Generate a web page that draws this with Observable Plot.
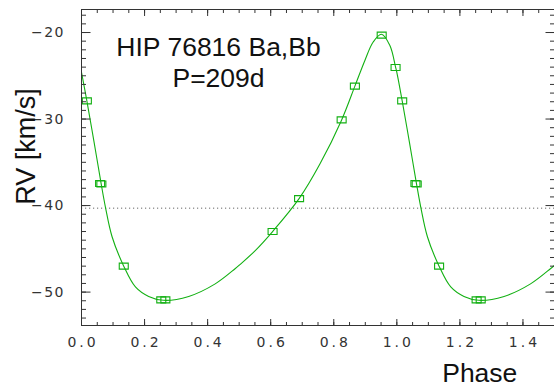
<!DOCTYPE html>
<html><head><meta charset="utf-8">
<script src="https://cdn.jsdelivr.net/npm/d3@7"></script>
<script src="https://cdn.jsdelivr.net/npm/@observablehq/plot@0.6"></script>
<style>
body{margin:0;background:#fff}
svg [aria-label="x-axis tick label"] text{letter-spacing:3px}
svg [aria-label="y-axis tick label"] text{letter-spacing:1.5px}
</style>
</head><body><div id="chart"></div>
<script>
// Model curve (one period, phase 0..1)
const curvePhase = [0, 0.017, 0.04, 0.062, 0.076, 0.097, 0.134, 0.171, 0.213, 0.26, 0.34, 0.424, 0.487, 0.5, 0.551, 0.606, 0.69, 0.756, 0.825, 0.867, 0.899, 0.925, 0.951, 0.978, 0.996];
const curveRV = [-24.6, -27.9, -32.7, -37.4, -40.2, -43.6, -47.0, -49.4, -50.5, -50.95, -50.5, -49.05, -47.3, -46.9, -45.2, -43.0, -39.2, -35.2, -30.1, -26.2, -23.2, -21.1, -20.2, -21.5, -24.0];
// Observations
const obsPhase = [0.017, 0.059, 0.063, 0.134, 0.253, 0.266, 0.606, 0.690, 0.825, 0.867, 0.952, 0.996];
const obsRV = [-27.9, -37.45, -37.5, -47.0, -50.9, -50.9, -43.0, -39.2, -30.1, -26.2, -20.3, -24.05];
const gamma = -40.3;
const xTicks = [0, 0.2, 0.4, 0.6, 0.8, 1.0, 1.2, 1.4];
const xMinor = d3.range(0, 31).map(i => i * 0.05);
const yTicks = [-20, -30, -40, -50];
const yMinor = d3.range(-53, -17).map(d => d);
const titleLines = ["HIP 76816 Ba,Bb", "P=209d"];
const xLabel = "Phase", yLabel = "RV [km/s]";

const curve = [];
curvePhase.forEach((p, i) => { curve.push({phase: p, rv: curveRV[i]}); });
curvePhase.forEach((p, i) => { if (p + 1 <= 1.5) curve.push({phase: p + 1, rv: curveRV[i]}); });
curve.sort((a, b) => a.phase - b.phase);
const obs = [];
obsPhase.forEach((p, i) => { obs.push({phase: p, rv: obsRV[i]}); if (p + 1 <= 1.5) obs.push({phase: p + 1, rv: obsRV[i]}); });

const green = "#12b012";
const rectSym = {draw(ctx) { ctx.moveTo(-4.5, -3); ctx.lineTo(4.5, -3); ctx.lineTo(4.5, 3); ctx.lineTo(-4.5, 3); ctx.closePath(); }};
const axC = "#333";
const tf = {fontFamily: "DejaVu Sans", fontSize: 14, fontWeight: 400, fill: "#333"};

const chart = Plot.plot({
  width: 554, height: 386,
  marginLeft: 81, marginRight: 0, marginTop: 9, marginBottom: 61,
  x: {domain: [0, 1.5]},
  y: {domain: [-53.86, -17.34]},
  style: {fontFamily: "Liberation Sans, Arial, sans-serif", background: "white", color: "#222"},
  marks: [
    Plot.ruleY([gamma], {stroke: "#666", strokeDasharray: "1.2,2.8"}),
    Plot.line(curve, {x: "phase", y: "rv", stroke: green, strokeWidth: 1.1, curve: "catmull-rom"}),
    Plot.dot(obs, {x: "phase", y: "rv", symbol: rectSym, stroke: green, fill: "none", strokeWidth: 1.1}),
    Plot.frame({stroke: axC}),
    Plot.axisX(xMinor, {anchor: "bottom", tickSize: -3, fill: "none", stroke: axC}),
    Plot.axisX(xTicks, {anchor: "bottom", tickSize: -6, fill: "none", stroke: axC}),
    Plot.axisX(xMinor, {anchor: "top", tickSize: -3, fill: "none", stroke: axC}),
    Plot.axisX(xTicks, {anchor: "top", tickSize: -6, fill: "none", stroke: axC}),
    Plot.axisX(xTicks, {anchor: "bottom", tickSize: 0, tickPadding: 11.5, dx: 1.5, tickFormat: d3.format(".1f"), label: null, ...tf}),
    Plot.axisY(yMinor, {anchor: "left", tickSize: -5, fill: "none", stroke: axC}),
    Plot.axisY(yTicks, {anchor: "left", tickSize: -9.5, fill: "none", stroke: axC}),
    Plot.axisY(yMinor, {anchor: "right", tickSize: -5, fill: "none", stroke: axC}),
    Plot.axisY(yTicks, {anchor: "right", tickSize: -9.5, fill: "none", stroke: axC}),
    Plot.axisY(yTicks, {anchor: "left", tickSize: 0, tickPadding: 16.5, label: null, ...tf}),
    Plot.text([titleLines[0]], {frameAnchor: "top-left", dx: 137, dy: 46, textAnchor: "middle", lineAnchor: "bottom", fontSize: 26.5, fill: "#111"}),
    Plot.text([titleLines[1]], {frameAnchor: "top-left", dx: 137, dy: 77.7, textAnchor: "middle", lineAnchor: "bottom", fontSize: 26.5, fill: "#111"}),
    Plot.text([xLabel], {frameAnchor: "bottom-left", dx: 360.7, dy: 56, textAnchor: "start", lineAnchor: "bottom", fontSize: 26.5, fill: "#111"}),
    Plot.text([yLabel], {frameAnchor: "left", dx: -46.5, dy: -21, rotate: -90, textAnchor: "middle", lineAnchor: "bottom", fontSize: 27, fill: "#111"})
  ]
});
document.getElementById("chart").append(chart);
</script>
</body></html>
